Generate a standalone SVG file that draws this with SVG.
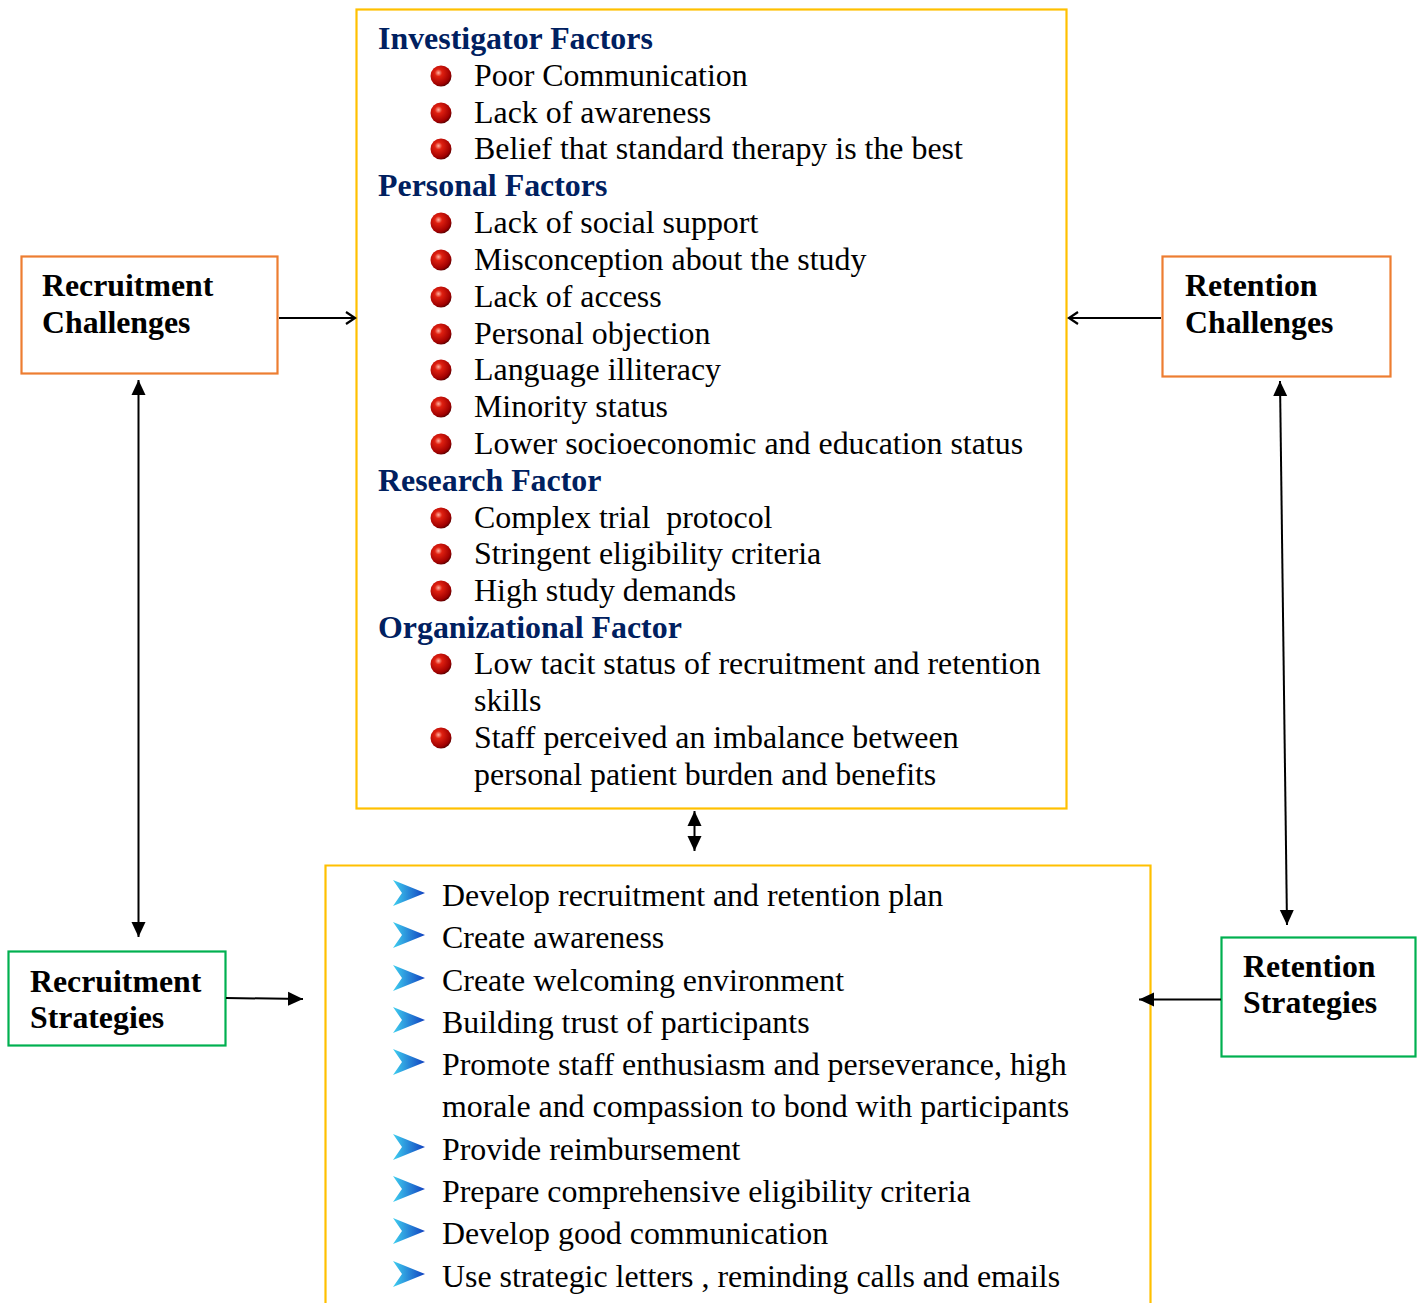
<svg xmlns="http://www.w3.org/2000/svg" width="1421" height="1303" viewBox="0 0 1421 1303">
<defs>
<radialGradient id="ball" cx="0.38" cy="0.35" r="0.7">
<stop offset="0" stop-color="#ffb0a0"/>
<stop offset="0.25" stop-color="#e02010"/>
<stop offset="0.8" stop-color="#a00000"/>
<stop offset="1" stop-color="#500000"/>
</radialGradient>
<linearGradient id="chev" x1="0" y1="0" x2="1" y2="0">
<stop offset="0" stop-color="#40d0f0"/>
<stop offset="1" stop-color="#1040c0"/>
</linearGradient>
<symbol id="b" overflow="visible"><circle cx="0" cy="0" r="10.5" fill="url(#ball)"/></symbol>
<symbol id="c" overflow="visible"><polygon points="-16,-13 16,0 -16,13 -7,0" fill="url(#chev)"/></symbol>
<marker id="open" markerWidth="14" markerHeight="14" refX="11" refY="7" orient="auto" markerUnits="userSpaceOnUse"><path d="M2,1 L11,7 L2,13" fill="none" stroke="#000" stroke-width="2.2"/></marker>
<marker id="fill" markerWidth="16" markerHeight="16" refX="15" refY="8" orient="auto" markerUnits="userSpaceOnUse"><path d="M0,1 L15,8 L0,15 Z" fill="#000"/></marker>
<marker id="fillS" markerWidth="16" markerHeight="16" refX="1" refY="8" orient="auto" markerUnits="userSpaceOnUse"><path d="M16,1 L1,8 L16,15 Z" fill="#000"/></marker>
</defs>
<style>
.t{font-family:"Liberation Serif","Times New Roman",serif;font-size:31.9px;fill:#000}
.h{font-family:"Liberation Serif","Times New Roman",serif;font-size:31.9px;font-weight:bold;fill:#002060}
.n{font-family:"Liberation Serif","Times New Roman",serif;font-size:31.8px;font-weight:bold;fill:#000}
.ybox{fill:#fff;stroke:#FFC000;stroke-width:2.2}
.obox{fill:#fff;stroke:#ED7D31;stroke-width:2.2}
.gbox{fill:#fff;stroke:#00B050;stroke-width:2.2}
.ln{stroke:#000;stroke-width:2;fill:none}
</style>
<rect width="1421" height="1303" fill="#fff"/>

<g id="factors">
<rect class="ybox" x="356.5" y="9.5" width="710" height="799"/>
<text class="h" x="378" y="49">Investigator Factors</text>
<use href="#b" x="441" y="76"/><text class="t" x="474" y="86">Poor Communication</text>
<use href="#b" x="441" y="113"/><text class="t" x="474" y="123">Lack of awareness</text>
<use href="#b" x="441" y="149"/><text class="t" x="474" y="159">Belief that standard therapy is the best</text>
<text class="h" x="378" y="196">Personal Factors</text>
<use href="#b" x="441" y="223"/><text class="t" x="474" y="233">Lack of social support</text>
<use href="#b" x="441" y="260"/><text class="t" x="474" y="270">Misconception about the study</text>
<use href="#b" x="441" y="297"/><text class="t" x="474" y="307">Lack of access</text>
<use href="#b" x="441" y="334"/><text class="t" x="474" y="344">Personal objection</text>
<use href="#b" x="441" y="370"/><text class="t" x="474" y="380">Language illiteracy</text>
<use href="#b" x="441" y="407"/><text class="t" x="474" y="417">Minority status</text>
<use href="#b" x="441" y="444"/><text class="t" x="474" y="454">Lower socioeconomic and education status</text>
<text class="h" x="378" y="491">Research Factor</text>
<use href="#b" x="441" y="518"/><text class="t" x="474" y="528" xml:space="preserve">Complex trial  protocol</text>
<use href="#b" x="441" y="554"/><text class="t" x="474" y="564">Stringent eligibility criteria</text>
<use href="#b" x="441" y="591"/><text class="t" x="474" y="601">High study demands</text>
<text class="h" x="378" y="638">Organizational Factor</text>
<use href="#b" x="441" y="664"/><text class="t" x="474" y="674">Low tacit status of recruitment and retention</text>
<text class="t" x="474" y="711">skills</text>
<use href="#b" x="441" y="738"/><text class="t" x="474" y="748">Staff perceived an imbalance between</text>
<text class="t" x="474" y="785">personal patient burden and benefits</text>
</g>

<g id="strategies">
<path class="ybox" d="M325.5,1305 V865.5 H1150.5 V1305"/>
<use href="#c" x="409" y="893"/><text class="t" x="442" y="906">Develop recruitment and retention plan</text>
<use href="#c" x="409" y="935"/><text class="t" x="442" y="948">Create awareness</text>
<use href="#c" x="409" y="978"/><text class="t" x="442" y="991">Create welcoming environment</text>
<use href="#c" x="409" y="1020"/><text class="t" x="442" y="1033">Building trust of participants</text>
<use href="#c" x="409" y="1062"/><text class="t" x="442" y="1075">Promote staff enthusiasm and perseverance, high</text>
<text class="t" x="442" y="1117">morale and compassion to bond with participants</text>
<use href="#c" x="409" y="1147"/><text class="t" x="442" y="1160">Provide reimbursement</text>
<use href="#c" x="409" y="1189"/><text class="t" x="442" y="1202">Prepare comprehensive eligibility criteria</text>
<use href="#c" x="409" y="1231"/><text class="t" x="442" y="1244">Develop good communication</text>
<use href="#c" x="409" y="1274"/><text class="t" x="442" y="1287">Use strategic letters , reminding calls and emails</text>
</g>

<g id="recruitment-challenges">
<rect class="obox" x="21.5" y="256.5" width="256" height="117"/>
<text class="n" x="42" y="296">Recruitment</text>
<text class="n" x="42" y="333">Challenges</text>
</g>
<g id="retention-challenges">
<rect class="obox" x="1162.5" y="256.5" width="228" height="120"/>
<text class="n" x="1185" y="296">Retention</text>
<text class="n" x="1185" y="333">Challenges</text>
</g>
<g id="recruitment-strategies">
<rect class="gbox" x="8.5" y="951.5" width="217" height="94"/>
<text class="n" x="30" y="992">Recruitment</text>
<text class="n" x="30" y="1028">Strategies</text>
</g>
<g id="retention-strategies">
<rect class="gbox" x="1221.5" y="937.5" width="194" height="119"/>
<text class="n" x="1243" y="977">Retention</text>
<text class="n" x="1243" y="1013">Strategies</text>
</g>

<g id="connectors">
<line class="ln" x1="279" y1="318" x2="355" y2="318" marker-end="url(#open)"/>
<line class="ln" x1="1161" y1="318" x2="1069" y2="318" marker-end="url(#open)"/>
<line class="ln" x1="138.5" y1="380" x2="138.5" y2="937" stroke-width="1.5" marker-start="url(#fillS)" marker-end="url(#fill)"/>
<line class="ln" x1="1280" y1="381" x2="1287" y2="925" stroke-width="1.5" marker-start="url(#fillS)" marker-end="url(#fill)"/>
<line class="ln" x1="694.5" y1="811" x2="694.5" y2="851" stroke-width="1.5" marker-start="url(#fillS)" marker-end="url(#fill)"/>
<line class="ln" x1="226" y1="998" x2="303" y2="999" stroke-width="1.5" marker-end="url(#fill)"/>
<line class="ln" x1="1221" y1="999.5" x2="1139" y2="999.5" stroke-width="1.5" marker-end="url(#fill)"/>
</g>
</svg>
